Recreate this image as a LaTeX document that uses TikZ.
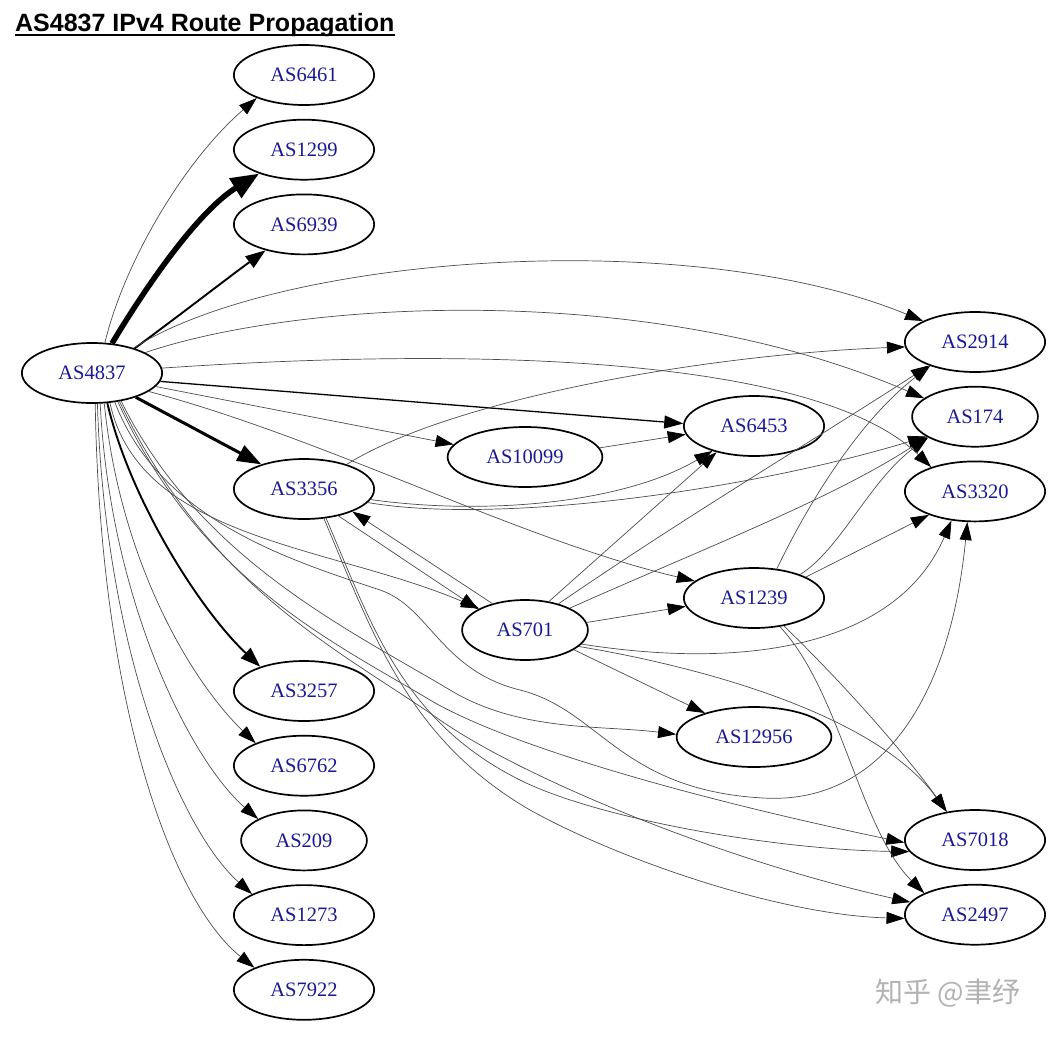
\documentclass[tikz,border=0pt]{standalone}
\usepackage{fontspec}
\setmainfont{Liberation Serif}
\newfontfamily\headfont{Liberation Sans}
\newfontfamily\markfont{Noto Sans CJK SC}
\usepackage{tikz}
\usetikzlibrary{shapes.geometric,arrows.meta,positioning}
\definecolor{asblue}{RGB}{25,25,150}
\tikzset{
  asn/.style={ellipse,draw,line width=1.7pt,inner xsep=16pt,inner ysep=0pt,minimum height=60pt,text=asblue,font=\fontsize{20.5}{24}\selectfont},
  lk/.style={-{Triangle[length=18pt,width=12pt,color=black]},line width=0.7pt,draw=black!70},
  lk2/.style={-{Triangle[length=19pt,width=13pt]},line width=1.3pt},
  lk3/.style={-{Triangle[length=20pt,width=14pt]},line width=1.9pt},
  lk4/.style={-{Triangle[length=24pt,width=17pt]},line width=3pt},
  lk5/.style={-{Triangle[length=28pt,width=22pt]},line width=5.5pt},
}
\begin{document}
\begin{tikzpicture}[x=1pt,y=1pt]
  \useasboundingbox (0,0) rectangle (1060,-1039);
  \node[anchor=base west,inner sep=0pt,font=\headfont\bfseries\fontsize{25}{28}\selectfont] (title) at (15,-31) {AS4837 IPv4 Route Propagation};
  \draw[line width=1.8pt] ([yshift=-4pt]title.base west) -- ([yshift=-4pt]title.base east);
  % rank 0 and 1
  \node[asn] (as4837) at (92,-373) {AS4837};
  \node[asn] (as6461) at (304,-75) {AS6461};
  \node[asn,below=13pt of as6461] (as1299) {AS1299};
  \node[asn,below=13pt of as1299] (as6939) {AS6939};
  \node[asn] (as3356) at (304,-489) {AS3356};
  \node[asn] (as3257) at (304,-691) {AS3257};
  \node[asn,below=13pt of as3257] (as6762) {AS6762};
  \node[asn,below=13pt of as6762] (as209) {AS209};
  \node[asn,below=13pt of as209] (as1273) {AS1273};
  \node[asn,below=13pt of as1273] (as7922) {AS7922};
  % rank 2 and 3
  \node[asn] (as10099) at (525,-457) {AS10099};
  \node[asn] (as701) at (525,-630) {AS701};
  \node[asn] (as6453) at (754,-426) {AS6453};
  \node[asn] (as1239) at (754,-598) {AS1239};
  \node[asn] (as12956) at (754,-737) {AS12956};
  % rank 4
  \node[asn] (as2914) at (975,-342) {AS2914};
  \node[asn,below=13pt of as2914] (as174) {AS174};
  \node[asn,below=13pt of as174] (as3320) {AS3320};
  \node[asn] (as7018) at (975,-840) {AS7018};
  \node[asn,below=13pt of as7018] (as2497) {AS2497};
  \node[font=\markfont\fontsize{28}{30}\selectfont,text=black!30] (mark) at (948,-993) {知乎 @聿纾};
  % AS4837 out
  \draw[lk] (as4837.67) .. controls (125,-260) and (185,-160) .. (as6461.206);
  \draw[lk5] (as4837.56) .. controls (150,-280) and (200,-210) .. (as1299.208);
  \draw[lk3] (as4837.30) .. controls (180,-315) and (225,-280) .. (as6939.214);
  \draw[lk] (as4837.31) .. controls (280,-255) and (690,-225) .. (as2914.158);
  \draw[lk] (as4837.21) .. controls (300,-300) and (650,-280) .. (as174.160);
  \draw[lk] (as4837.4) .. controls (500,-345) and (820,-360) .. (as3320.151);
  \draw[lk2] (as4837.-7) -- (as6453.178);
  \draw[lk] (as4837.-12) -- (as10099.170);
  \draw[lk] (as4837.-18) .. controls (330,-440) and (520,-540) .. (as1239.164);
  \draw[lk4] (as4837.-29) -- (as3356.150);
  \draw[lk] (as4837.-59) .. controls (140,-540) and (330,-545) .. (as701.155);
  \draw[lk3] (as4837.-63) .. controls (130,-500) and (200,-610) .. (as3257.151);
  \draw[lk] (as4837.-68) .. controls (120,-560) and (190,-680) .. (as6762.155);
  \draw[lk] (as4837.-75) .. controls (110,-600) and (190,-760) .. (as209.155);
  \draw[lk] (as4837.-80) .. controls (105,-650) and (180,-830) .. (as1273.158);
  \draw[lk] (as4837.-84) .. controls (100,-700) and (170,-900) .. (as7922.156);
  \draw[lk] (as4837.-44) .. controls (200,-560) and (350,-630) .. (450,-690) .. controls (520,-732) and (600,-725) .. (as12956.178);
  \draw[lk] (as4837.-52) .. controls (160,-520) and (290,-560) .. (380,-590) .. controls (430,-607) and (440,-670) .. (520,-690) .. controls (600,-710) and (620,-790) .. (763,-798) .. controls (880,-805) and (950,-700) .. (as3320.-104);
  \draw[lk] (as4837.-48) .. controls (200,-580) and (330,-640) .. (430,-700) .. controls (510,-747) and (700,-800) .. (as7018.182);
  \draw[lk] (as4837.-46) .. controls (210,-590) and (340,-650) .. (440,-720) .. controls (520,-776) and (720,-860) .. (as2497.169);
  % AS3356 out
  \draw[lk] (as3356.-53) .. controls (370,-620) and (400,-720) .. (520,-780) .. controls (600,-820) and (780,-850) .. (as7018.190);
  \draw[lk] (as3356.-56) .. controls (375,-640) and (410,-740) .. (530,-810) .. controls (620,-860) and (780,-915) .. (as2497.183);
  \draw[lk] (as3356.30) .. controls (450,-400) and (700,-355) .. (as2914.184);
  \draw[lk] (as3356.-9) .. controls (480,-515) and (620,-505) .. (as6453.211);
  \draw[lk] (as3356.-12) .. controls (500,-525) and (750,-490) .. (as174.202);
  \draw[lk] (as3356.-38) -- (as701.156);
  % AS701 out
  \draw[lk] (as701.141) -- (as3356.-25);
  \draw[lk] (as701.50) -- (as6453.215);
  \draw[lk] (as701.38) .. controls (680,-520) and (830,-430) .. (as2914.207);
  \draw[lk] (as701.26) .. controls (700,-550) and (830,-500) .. (as174.203);
  \draw[lk] (as701.7) -- (as1239.187);
  \draw[lk] (as701.-14) .. controls (760,-672) and (900,-640) .. (as3320.231);
  \draw[lk] (as701.-22) -- (as12956.154);
  \draw[lk] (as701.-17) .. controls (720,-670) and (880,-720) .. (as7018.135);
  % AS10099 and AS1239 out
  \draw[lk] (as10099.7) -- (as6453.187);
  \draw[lk] (as1239.52) .. controls (810,-500) and (860,-420) .. (as2914.208);
  \draw[lk] (as1239.27) .. controls (840,-550) and (870,-480) .. (as174.204);
  \draw[lk] (as1239.22) -- (as3320.207);
  \draw[lk] (as1239.-43) .. controls (850,-690) and (910,-760) .. (as7018.135);
  \draw[lk] (as1239.-48) .. controls (840,-690) and (860,-830) .. (as2497.157);
\end{tikzpicture}
\end{document}
